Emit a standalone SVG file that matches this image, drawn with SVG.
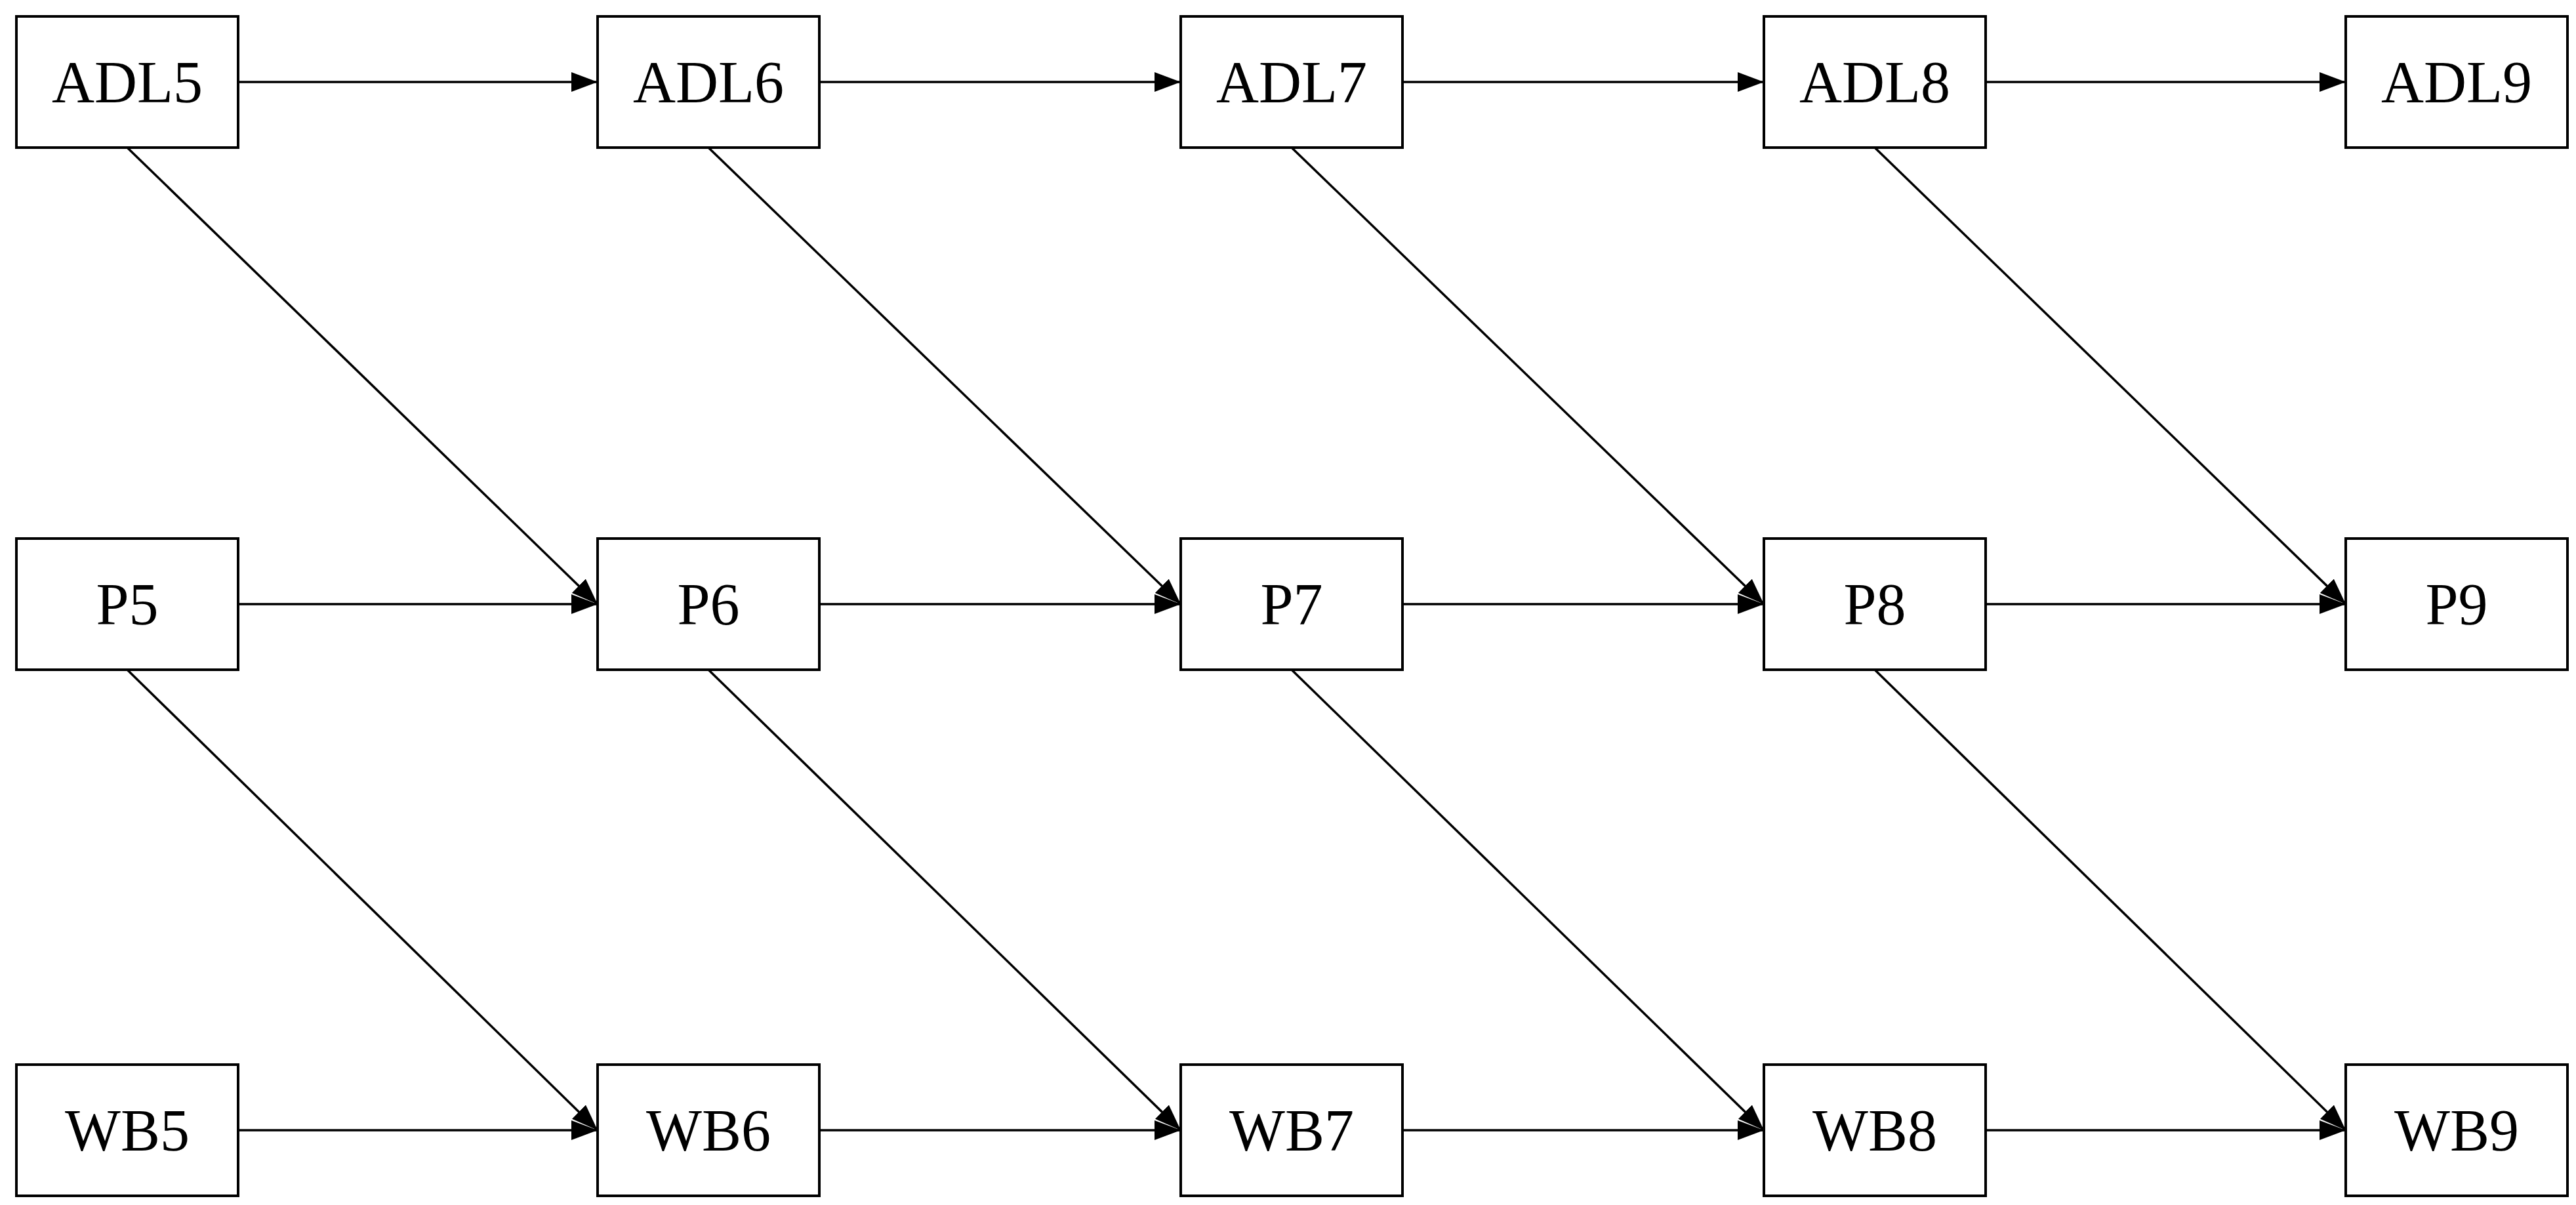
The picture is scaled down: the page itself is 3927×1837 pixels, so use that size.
<svg xmlns="http://www.w3.org/2000/svg" width="3927" height="1837" viewBox="0 0 3927 1837">
<style>
.n rect{fill:#fff;stroke:#000;stroke-width:4}
.n text{font-family:"Liberation Serif",serif;font-size:90px;text-anchor:middle}
.e line{stroke:#000;stroke-width:3.5}
</style>
<defs><marker id="a" viewBox="0 0 12 10" refX="12" refY="5" markerWidth="12" markerHeight="10" markerUnits="userSpaceOnUse" orient="auto"><path d="M0,0L12,5L0,10z" fill="#000" transform="scale(1)"/></marker>
<marker id="b" viewBox="0 0 40 30" refX="40" refY="15" markerWidth="40" markerHeight="30" markerUnits="userSpaceOnUse" orient="auto"><path d="M0,0L40,15L0,30z" fill="#000"/></marker></defs>
<rect width="3927" height="1837" fill="#fff"/>
<g class="e">
<line x1="363" y1="125" x2="911" y2="125" marker-end="url(#b)"/>
<line x1="1249" y1="125" x2="1800" y2="125" marker-end="url(#b)"/>
<line x1="2138" y1="125" x2="2689" y2="125" marker-end="url(#b)"/>
<line x1="3027" y1="125" x2="3576" y2="125" marker-end="url(#b)"/>
<line x1="363" y1="921" x2="911" y2="921" marker-end="url(#b)"/>
<line x1="1249" y1="921" x2="1800" y2="921" marker-end="url(#b)"/>
<line x1="2138" y1="921" x2="2689" y2="921" marker-end="url(#b)"/>
<line x1="3027" y1="921" x2="3576" y2="921" marker-end="url(#b)"/>
<line x1="363" y1="1723" x2="911" y2="1723" marker-end="url(#b)"/>
<line x1="1249" y1="1723" x2="1800" y2="1723" marker-end="url(#b)"/>
<line x1="2138" y1="1723" x2="2689" y2="1723" marker-end="url(#b)"/>
<line x1="3027" y1="1723" x2="3576" y2="1723" marker-end="url(#b)"/>
<line x1="194" y1="225" x2="911" y2="921" marker-end="url(#b)"/>
<line x1="1080" y1="225" x2="1800" y2="921" marker-end="url(#b)"/>
<line x1="1969" y1="225" x2="2689" y2="921" marker-end="url(#b)"/>
<line x1="2858" y1="225" x2="3576" y2="921" marker-end="url(#b)"/>
<line x1="194" y1="1021" x2="911" y2="1723" marker-end="url(#b)"/>
<line x1="1080" y1="1021" x2="1800" y2="1723" marker-end="url(#b)"/>
<line x1="1969" y1="1021" x2="2689" y2="1723" marker-end="url(#b)"/>
<line x1="2858" y1="1021" x2="3576" y2="1723" marker-end="url(#b)"/>
</g>
<g id="ADL5" class="n"><rect x="25" y="25" width="338" height="200"/><text x="194" y="156">ADL5</text></g>
<g id="ADL6" class="n"><rect x="911" y="25" width="338" height="200"/><text x="1080" y="156">ADL6</text></g>
<g id="ADL7" class="n"><rect x="1800" y="25" width="338" height="200"/><text x="1969" y="156">ADL7</text></g>
<g id="ADL8" class="n"><rect x="2689" y="25" width="338" height="200"/><text x="2858" y="156">ADL8</text></g>
<g id="ADL9" class="n"><rect x="3576" y="25" width="338" height="200"/><text x="3745" y="156">ADL9</text></g>
<g id="P5" class="n"><rect x="25" y="821" width="338" height="200"/><text x="194" y="952">P5</text></g>
<g id="P6" class="n"><rect x="911" y="821" width="338" height="200"/><text x="1080" y="952">P6</text></g>
<g id="P7" class="n"><rect x="1800" y="821" width="338" height="200"/><text x="1969" y="952">P7</text></g>
<g id="P8" class="n"><rect x="2689" y="821" width="338" height="200"/><text x="2858" y="952">P8</text></g>
<g id="P9" class="n"><rect x="3576" y="821" width="338" height="200"/><text x="3745" y="952">P9</text></g>
<g id="WB5" class="n"><rect x="25" y="1623" width="338" height="200"/><text x="194" y="1754">WB5</text></g>
<g id="WB6" class="n"><rect x="911" y="1623" width="338" height="200"/><text x="1080" y="1754">WB6</text></g>
<g id="WB7" class="n"><rect x="1800" y="1623" width="338" height="200"/><text x="1969" y="1754">WB7</text></g>
<g id="WB8" class="n"><rect x="2689" y="1623" width="338" height="200"/><text x="2858" y="1754">WB8</text></g>
<g id="WB9" class="n"><rect x="3576" y="1623" width="338" height="200"/><text x="3745" y="1754">WB9</text></g>
</svg>
